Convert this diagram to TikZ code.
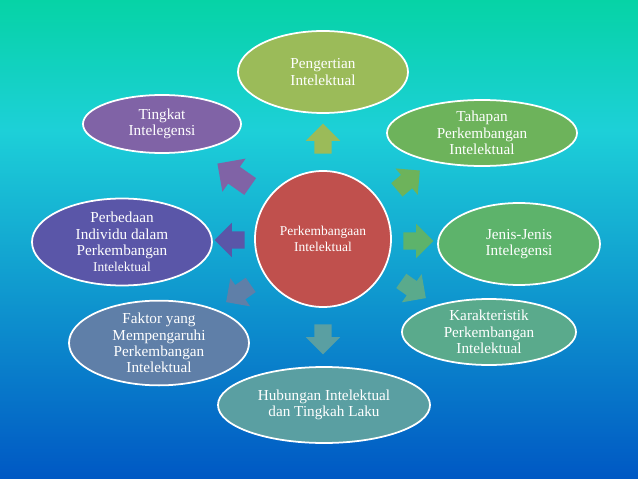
\documentclass[tikz,border=0pt]{standalone}
\usepackage{fontspec}
\setmainfont{Liberation Serif}
\usetikzlibrary{shapes.geometric,shapes.arrows}

\definecolor{bgtop}{HTML}{06D3A6}
\definecolor{bgmid}{HTML}{1DD0D8}
\definecolor{bgbot}{HTML}{0058C4}
\definecolor{cred}{HTML}{C0504D}
\definecolor{colive}{HTML}{9BBB59}
\definecolor{cgreen}{HTML}{6DB35B}
\definecolor{cgreenb}{HTML}{5DB36B}
\definecolor{cteal}{HTML}{5AAA8C}
\definecolor{ctealb}{HTML}{5A9FA2}
\definecolor{cslate}{HTML}{5F7FA8}
\definecolor{cindigo}{HTML}{5A56A8}
\definecolor{cpurple}{HTML}{8063A6}

\begin{document}
\begin{tikzpicture}[x=0.03cm,y=-0.03cm,
		bubble/.style={ellipse,draw=white,line width=1.5pt,text=white,
			align=center,inner sep=0pt,font=\fontsize{13}{14}\selectfont},
		blockarrow/.style={single arrow,draw=none,inner xsep=0pt,
			inner ysep=0.255cm,single arrow head extend=0.255cm,
			minimum height=0.9cm}]
		% background
		\useasboundingbox (0,0) rectangle (638,479);
		\shade[top color=bgtop,bottom color=bgmid] (0,0) rectangle (638,131);
		\shade[top color=bgmid,bottom color=bgbot] (0,130) rectangle (638,479);

		% create the nodes.
		\node (centre) [circle,draw=white,line width=1.5pt,fill=cred,text=white,
			minimum size=4.08cm,align=center,font=\fontsize{11.5}{13.5}\selectfont]
			at (323,239) {Perkembangaan\\Intelektual};
		\node (pengertian) [bubble,fill=colive,minimum width=5.1cm,minimum height=2.46cm]
			at (323,72) {Pengertian\\Intelektual};
		\node (tahapan) [bubble,fill=cgreen,minimum width=5.7cm,minimum height=1.98cm]
			at (482,133) {Tahapan\\Perkembangan\\Intelektual};
		\node (jenis) [bubble,fill=cgreenb,minimum width=4.86cm,minimum height=2.46cm]
			at (519,244) {Jenis-Jenis\\Intelegensi};
		\node (karakteristik) [bubble,fill=cteal,minimum width=5.22cm,minimum height=1.98cm]
			at (489,332) {Karakteristik\\Perkembangan\\Intelektual};
		\node (hubungan) [bubble,fill=ctealb,minimum width=6.36cm,minimum height=2.28cm]
			at (324,405) {Hubungan Intelektual\\dan Tingkah Laku};
		\node (faktor) [bubble,fill=cslate,minimum width=5.4cm,minimum height=2.4cm]
			at (159,343) {Faktor yang\\Mempengaruhi\\Perkembangan\\Intelektual};
		\node (perbedaan) [bubble,fill=cindigo,minimum width=5.4cm,minimum height=2.61cm]
			at (122,242) {Perbedaan\\Individu dalam\\Perkembangan\\{\fontsize{11.5}{13}\selectfont Intelektual}};
		\node (tingkat) [bubble,fill=cpurple,minimum width=4.74cm,minimum height=1.74cm]
			at (162,124) {Tingkat\\Intelegensi};

		% the block arrows
		\node (toPengertian) [blockarrow,fill=colive,rotate=90] at (323,143) {};
		\node (toTahapan) [blockarrow,fill=cgreen,rotate=40] at (405,183) {};
		\node (toJenis) [blockarrow,fill=cgreenb] at (414,241) {};
		\node (toKarakteristik) [blockarrow,fill=cteal,rotate=-35] at (410,287) {};
		\node (toHubungan) [blockarrow,fill=ctealb,rotate=-90] at (323,335) {};
		\node (toFaktor) [blockarrow,fill=cslate,rotate=215] at (242,291) {};
		\node (toPerbedaan) [blockarrow,fill=cindigo,rotate=180] at (234,240) {};
		\node (toTingkat) [blockarrow,fill=cpurple,rotate=145,inner ysep=0.3cm,
			single arrow head extend=0.3cm,minimum height=1.2cm] at (238,178) {};
	\end{tikzpicture}
\end{document}
